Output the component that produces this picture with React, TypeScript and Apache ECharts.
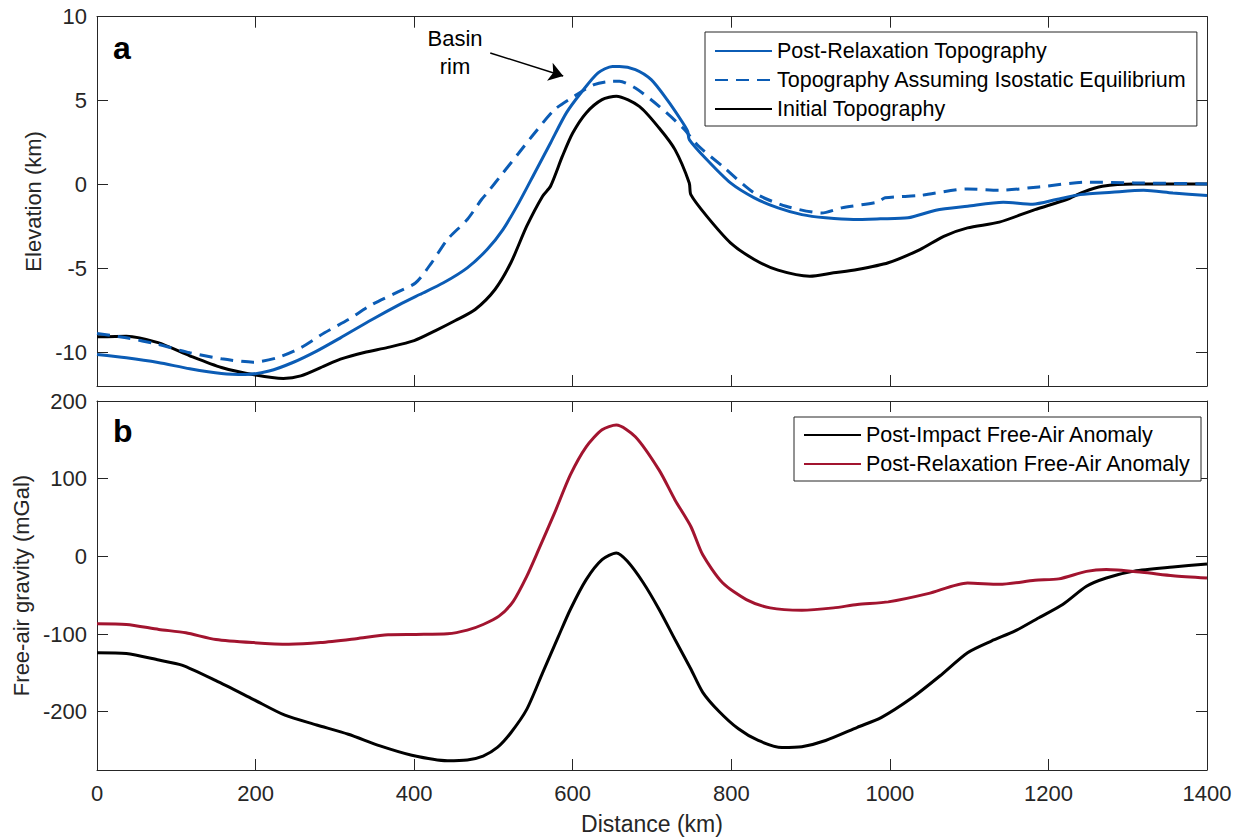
import React, { useEffect, useRef } from "react";
import * as echarts from "echarts";

// ---------- data (km, km / mGal) ----------
const initialX = [0, 37, 77, 117, 157, 200, 235, 257, 287, 307, 337, 367, 400, 427, 452, 477, 502, 522, 542, 562, 572, 587, 600, 617, 637, 655, 684, 709, 729, 747, 749, 769, 799, 829, 859, 899, 929, 959, 998, 1038, 1068, 1098, 1138, 1183, 1223, 1243, 1268, 1308, 1400];
const initialY = [-9.07, -9.03, -9.42, -10.2, -10.9, -11.35, -11.55, -11.4, -10.8, -10.4, -10.0, -9.7, -9.3, -8.7, -8.1, -7.44, -6.25, -4.66, -2.48, -0.69, -0.1, 1.69, 3.07, 4.27, 5.06, 5.26, 4.66, 3.37, 2.08, 0.1, -0.6, -1.88, -3.47, -4.46, -5.1, -5.46, -5.26, -5.06, -4.66, -3.87, -3.08, -2.58, -2.24, -1.49, -0.89, -0.46, -0.1, 0.04, 0.04];

const relaxX = [0, 37, 77, 117, 157, 187, 217, 247, 277, 307, 347, 382, 407, 437, 467, 492, 512, 532, 552, 572, 592, 612, 632, 650, 659, 679, 699, 719, 739, 745, 747, 769, 799, 829, 859, 889, 919, 954, 988, 1023, 1058, 1098, 1143, 1180, 1210, 1240, 1280, 1320, 1357, 1400];
const relaxY = [-10.12, -10.32, -10.6, -10.97, -11.25, -11.31, -11.11, -10.6, -9.92, -9.13, -8.04, -7.14, -6.55, -5.85, -4.96, -3.87, -2.68, -1.09, 0.69, 2.48, 4.27, 5.56, 6.65, 7.04, 7.04, 6.85, 6.25, 5.06, 3.67, 3.17, 2.68, 1.49, 0.1, -0.79, -1.39, -1.79, -1.98, -2.08, -2.04, -1.98, -1.53, -1.29, -1.05, -1.17, -0.89, -0.6, -0.46, -0.34, -0.5, -0.65];

const isoX = [0, 37, 77, 117, 157, 197, 227, 257, 287, 317, 347, 377, 402, 422, 442, 467, 485, 492, 512, 532, 552, 577, 602, 627, 650, 659, 679, 709, 739, 759, 789, 829, 869, 914, 939, 984, 994, 1038, 1098, 1138, 1188, 1248, 1308, 1400];
const isoY = [-8.87, -9.13, -9.52, -10.02, -10.38, -10.58, -10.32, -9.72, -8.83, -8.04, -7.14, -6.45, -5.85, -4.66, -3.27, -2.08, -0.89, -0.5, 0.69, 1.88, 3.07, 4.46, 5.26, 5.95, 6.15, 6.15, 5.75, 4.66, 3.37, 2.28, 1.09, -0.5, -1.29, -1.69, -1.39, -1.05, -0.79, -0.65, -0.26, -0.34, -0.14, 0.14, 0.1, 0.04];

const faRelaxX = [0, 37, 78, 112, 150, 197, 242, 282, 327, 367, 402, 442, 467, 487, 507, 525, 542, 557, 577, 597, 617, 637, 655, 679, 709, 729, 749, 764, 789, 819, 849, 889, 929, 959, 998, 1048, 1098, 1138, 1183, 1213, 1248, 1273, 1318, 1357, 1400];
const faRelaxY = [-86.8, -87.7, -94, -98.4, -107, -111, -113, -111, -106, -101, -100.5, -99.7, -95, -87.7, -77, -57.8, -25.7, 8.6, 55.6, 104.8, 141, 163, 169, 154, 111, 72.7, 38.5, 2, -34, -55.6, -66.3, -69.3, -66.3, -62, -58.6, -48, -34.2, -36, -30.8, -29, -19.3, -17, -20.5, -24.8, -27.8];

const faImpactX = [0, 37, 78, 107, 150, 197, 237, 277, 317, 357, 397, 442, 467, 487, 505, 522, 542, 562, 582, 597, 617, 637, 655, 669, 689, 709, 729, 749, 764, 784, 809, 834, 864, 889, 919, 959, 989, 1028, 1063, 1098, 1128, 1158, 1188, 1218, 1248, 1273, 1308, 1357, 1400];
const faImpactY = [-124, -125, -133.5, -140, -160, -184, -204.5, -217, -229, -244, -256, -263, -262, -257, -246, -227, -197, -150, -103, -68.4, -30, -4.3, 4.3, -6.4, -34, -68.4, -107, -145, -175, -199, -222, -237, -246, -245, -237, -220, -207.5, -182, -154, -124, -109, -96, -79, -62, -38.5, -27.8, -19, -13.7, -9.8];

const xTicks = [0, 200, 400, 600, 800, 1000, 1200, 1400];
const elevTicks = [-10, -5, 0, 5, 10];
const gravTicks = [-200, -100, 0, 100, 200];

const arrowStart = [496, 7.84];
const arrowEnd = [588, 6.47];

// ---------- styles ----------
const FONT = "'Liberation Sans', Arial, Helvetica, sans-serif";
const AX = "#262626";
const BLUE = "#0b5cb5";
const RED = "#a2142f";
const BLACK = "#000000";

const zip = (xs: number[], ys: number[]) => xs.map((x, i) => [x, ys[i]]);
const plain = (v: number) => String(v);

function xAxisCfg(gridIndex: number, position: string, showLabel: boolean, name?: string) {
  return {
    type: "value",
    gridIndex,
    position,
    min: xTicks[0],
    max: xTicks[xTicks.length - 1],
    interval: 200,
    name: name || "",
    nameLocation: "middle",
    nameGap: 42,
    nameTextStyle: { fontSize: 23, color: AX, fontFamily: FONT },
    axisLine: { show: true, onZero: false, lineStyle: { color: AX, width: 1 } },
    axisTick: { show: true, inside: true, length: 11, lineStyle: { color: AX, width: 1 } },
    axisLabel: { show: showLabel, fontSize: 22, color: AX, fontFamily: FONT, margin: 12, formatter: plain },
    splitLine: { show: false },
  };
}

function yAxisCfg(gridIndex: number, position: string, showLabel: boolean, min: number, max: number, ticks: number[], name?: string, gap?: number) {
  return {
    type: "value",
    gridIndex,
    position,
    min,
    max,
    name: name || "",
    nameLocation: "middle",
    nameGap: gap || 40,
    nameRotate: 90,
    nameTextStyle: { fontSize: 22, color: AX, fontFamily: FONT },
    axisLine: { show: true, onZero: false, lineStyle: { color: AX, width: 1 } },
    axisTick: { show: true, inside: true, length: 11, customValues: ticks, lineStyle: { color: AX, width: 1 } },
    axisLabel: { show: showLabel, fontSize: 22, color: AX, fontFamily: FONT, margin: 10, customValues: ticks, formatter: plain },
    splitLine: { show: false },
  };
}

const lineSeries = (name: string, data: number[][], color: string, xi: number, yi: number, dashed = false) => ({
  type: "line",
  name,
  data,
  xAxisIndex: xi,
  yAxisIndex: yi,
  showSymbol: false,
  symbol: "none",
  smooth: 0.25,
  lineStyle: { color, width: 3, type: dashed ? [13, 8] : "solid" },
  itemStyle: { color },
  z: 3,
});

const legendBase = {
  orient: "vertical",
  itemWidth: 57,
  itemHeight: 14,
  itemGap: 7,
  borderColor: AX,
  borderWidth: 1,
  backgroundColor: "#ffffff",
  itemStyle: { opacity: 0 },
  textStyle: { fontSize: 21.5, color: "#000", fontFamily: FONT },
  selectedMode: false,
};

const option: any = {
  animation: false,
  backgroundColor: "#ffffff",
  textStyle: { fontFamily: FONT },
  grid: [
    { left: 97, top: 16.7, width: 1110, height: 369.3, containLabel: false },
    { left: 97, top: 401, width: 1110, height: 369, containLabel: false },
  ],
  xAxis: [
    xAxisCfg(0, "bottom", false),
    xAxisCfg(0, "top", false),
    xAxisCfg(1, "bottom", true, "Distance (km)"),
    xAxisCfg(1, "top", false),
  ],
  yAxis: [
    yAxisCfg(0, "left", true, -12, 10, elevTicks, "Elevation (km)", 49),
    yAxisCfg(0, "right", false, -12, 10, elevTicks),
    yAxisCfg(1, "left", true, -275, 200, gravTicks, "Free-air gravity (mGal)", 62),
    yAxisCfg(1, "right", false, -275, 200, gravTicks),
  ],
  legend: [
    {
      ...legendBase,
      left: 705,
      top: 32,
      padding: [8, 10, 6, 9],
      data: ["Post-Relaxation Topography", "Topography Assuming Isostatic Equilibrium", "Initial Topography"],
    },
    {
      ...legendBase,
      left: 794,
      top: 417,
      padding: [7, 10, 6, 9],
      data: ["Post-Impact Free-Air Anomaly", "Post-Relaxation Free-Air Anomaly"],
    },
  ],
  series: [
    lineSeries("Initial Topography", zip(initialX, initialY), BLACK, 0, 0),
    lineSeries("Topography Assuming Isostatic Equilibrium", zip(isoX, isoY), BLUE, 0, 0, true),
    {
      ...lineSeries("Post-Relaxation Topography", zip(relaxX, relaxY), BLUE, 0, 0),
      markLine: {
        silent: true,
        symbol: ["none", "arrow"],
        symbolSize: 14,
        label: { show: false },
        lineStyle: { color: "#000", width: 1.5, type: "solid" },
        data: [[{ coord: arrowStart }, { coord: arrowEnd }]],
      },
    },
    lineSeries("Post-Impact Free-Air Anomaly", zip(faImpactX, faImpactY), BLACK, 2, 2),
    lineSeries("Post-Relaxation Free-Air Anomaly", zip(faRelaxX, faRelaxY), RED, 2, 2),
  ],
  graphic: [
    {
      type: "text",
      left: 113,
      top: 32,
      style: { text: "a", font: `bold 32px ${FONT}`, fill: "#000" },
    },
    {
      type: "text",
      left: 113,
      top: 415,
      style: { text: "b", font: `bold 32px ${FONT}`, fill: "#000" },
    },
    {
      type: "text",
      x: 455,
      y: 24,
      style: {
        text: "Basin\nrim",
        font: `22px ${FONT}`,
        fill: "#000",
        align: "center",
        verticalAlign: "top",
        lineHeight: 28,
      },
    },
  ],
};

export default function App() {
  const ref = useRef<HTMLDivElement>(null);
  useEffect(() => {
    if (!ref.current) return;
    const chart = echarts.init(ref.current, null, { renderer: "svg" });
    chart.setOption(option);
    return () => chart.dispose();
  }, []);
  return (
    <div
      ref={ref}
      style={{ position: "fixed", left: 0, top: 0, width: 1240, height: 837, background: "#fff" }}
    />
  );
}
